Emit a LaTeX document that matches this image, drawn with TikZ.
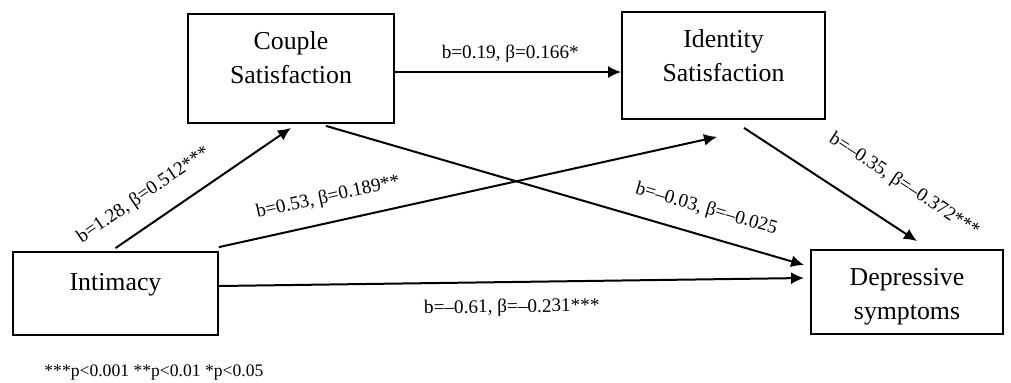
\documentclass[tikz,border=0pt]{standalone}
\usepackage{fontspec}
\setmainfont{Liberation Serif}
\usetikzlibrary{arrows.meta, positioning}

\begin{document}
\begin{tikzpicture}[x=0.5pt, y=-0.5pt, >={Latex[length=6.5pt,width=6pt]}]
        % Define block styles
        \tikzstyle{block} = [draw, line width=0.9pt, rectangle, align=center, inner sep=0pt, font=\fontsize{12.9}{17}\selectfont]
        \tikzstyle{coef} = [sloped, inner sep=1pt, font=\fontsize{9.6}{11}\selectfont]
        \tikzstyle{link} = [->, line width=1pt]

        \useasboundingbox (0,0) rectangle (1011,382);

        % Nodes
        \node [block, minimum width=102.5pt, minimum height=41.5pt, text height=9pt, text depth=12.5pt] (intimacy) at (115.5,293.5) {Intimacy};
        \node [block, minimum width=103pt, minimum height=54.5pt, text height=26pt, text depth=11.5pt] (couple) at (291,68.5) {Couple\\Satisfaction};
        \node [block, minimum width=101.5pt, minimum height=53.5pt, text height=26pt, text depth=10.5pt] (identity) at (723.5,65.5) {Identity\\Satisfaction};
        \node [block, minimum width=96pt, minimum height=42pt, text height=30pt, text depth=3pt] (depressive) at (907,292) {Depressive\\symptoms};
        \node [anchor=west, inner sep=0pt, font=\fontsize{8.8}{10}\selectfont] (note) at (44,373) {***p<0.001 **p<0.01 *p<0.05};

        % Edges
        \draw [link] ([yshift=1.5pt]intimacy.north) -- node [coef, pos=0.25, above=8pt] (b1) {b=1.28, β=0.512***} ([yshift=-2pt]couple.south);
        \draw [link] ([yshift=2pt]intimacy.north east) -- node [coef, pos=0.23, above=6.5pt] (b2) {b=0.53, β=0.189**} ([xshift=-3.25pt, yshift=-8.5pt]identity.south);
        \draw [link] ([yshift=-1.75pt]couple.east) -- node [coef, pos=0.51, above=3.3pt] (b3) {b=0.19, β=0.166*} ([yshift=-3.25pt]identity.west);
        \draw [link] ([xshift=17.5pt, yshift=-1pt]couple.south) -- node [coef, pos=0.78, above=7.2pt] (b4) {b=--0.03, β=--0.025} ([xshift=-3pt, yshift=13.5pt]depressive.west);
        \draw [link] ([xshift=10.25pt, yshift=-4pt]identity.south) -- node [coef, pos=0.8, above=14pt] (b5) {b=--0.35, β=--0.372***} ([xshift=5pt, yshift=4pt]depressive.north);
        \draw [link] ([yshift=3.75pt]intimacy.east) -- node [coef, pos=0.5, below=7pt] (b6) {b=--0.61, β=--0.231***} ([xshift=-3pt, yshift=7pt]depressive.west);
    \end{tikzpicture}
\end{document}
